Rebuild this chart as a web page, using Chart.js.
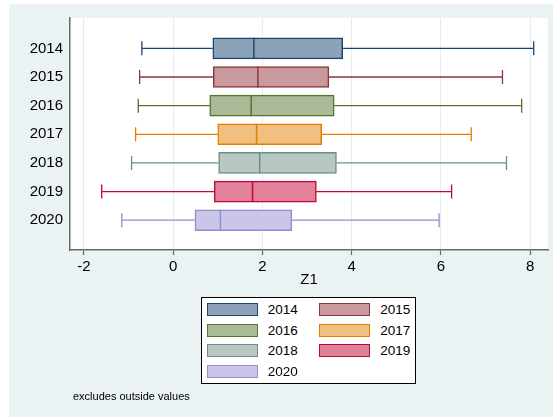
<!DOCTYPE html>
<html>
<head>
<meta charset="utf-8">
<script src="https://cdn.jsdelivr.net/npm/chart.js@4"></script>
<style>
  html, body { margin: 0; padding: 0; background: #fff; }
  #wrap { position: relative; width: 553px; height: 417px; overflow: hidden;
          font-family: "Liberation Sans", Arial, Helvetica, sans-serif; }
  #chart { position: absolute; left: 0; top: 0; }
  #legend { position: absolute; left: 201px; top: 297px; width: 213px; height: 85px;
            border: 1px solid #000; background: #fff; }
  .item { position: absolute; height: 14px; font-size: 13.5px; line-height: 14px; color: #000; white-space: nowrap; }
  .swatch { position: absolute; left: 0; top: 0; width: 49px; height: 11px; border: 1.5px solid; }
  .label { position: absolute; left: 61px; top: 0; }
  #note { position: absolute; left: 73px; top: 390px; font-size: 11px; line-height: 13px; color: #000; }
</style>
</head>
<body>
<div id="wrap">
  <canvas id="chart" width="553" height="417"></canvas>
  <div id="legend"></div>
  <div id="note">excludes outside values</div>
</div>
<script>
// Box plot of Z1 by year: whisker ends, quartiles and medians
const years         = ['2014', '2015', '2016', '2017', '2018', '2019', '2020'];
const lowerWhisker  = [-0.70, -0.75, -0.78, -0.84, -0.93, -1.60, -1.15];
const lowerQuartile = [0.89, 0.90, 0.82, 1.00, 1.02, 0.92, 0.49];
const medians       = [1.81, 1.90, 1.75, 1.87, 1.94, 1.78, 1.06];
const upperQuartile = [3.80, 3.49, 3.61, 3.33, 3.66, 3.21, 2.66];
const upperWhisker  = [8.08, 7.38, 7.81, 6.68, 7.47, 6.24, 5.96];
const xTicks        = [-2, 0, 2, 4, 6, 8];

const lineColors = ['#1A476F', '#90353B', '#55752F', '#E37E00', '#6E8E84', '#C10534', '#938DD2'];
const fillColors = ['#8CA3B7', '#C89A9D', '#AABA97', '#F1BF80', '#B7C7C2', '#E08299', '#C9C6E9'];

const FONT = '"Liberation Sans", Arial, Helvetica, sans-serif';

const datasets = years.map((yr, i) => ({
  label: yr,
  data: [{ x: [lowerQuartile[i], upperQuartile[i]], y: i + 1 }],
  backgroundColor: fillColors[i],
  borderColor: lineColors[i],
  borderWidth: 1.5,
  borderSkipped: false,
  grouped: false,
  barThickness: 21
}));

// Whiskers under the boxes, median strokes on top of them
const boxPlotExtras = {
  id: 'boxPlotExtras',
  beforeDraw(chart) {
    const { ctx, chartArea: a } = chart;
    ctx.save();
    ctx.fillStyle = '#EAF2F3';
    ctx.fillRect(9, 4, chart.width - 9, chart.height - 4);
    ctx.fillStyle = '#FFFFFF';
    ctx.fillRect(a.left, a.top, a.right - a.left, a.bottom - a.top);
    ctx.restore();
  },
  beforeDatasetsDraw(chart) {
    const { ctx } = chart;
    const xs = chart.scales.x;
    chart.data.datasets.forEach((ds, i) => {
      const bar = chart.getDatasetMeta(i).data[0];
      const { y } = bar.getProps(['y'], true);
      const lo = xs.getPixelForValue(lowerWhisker[i]);
      const q1 = xs.getPixelForValue(lowerQuartile[i]);
      const q3 = xs.getPixelForValue(upperQuartile[i]);
      const hi = xs.getPixelForValue(upperWhisker[i]);
      const cap = 7;
      ctx.save();
      ctx.strokeStyle = lineColors[i];
      ctx.lineWidth = 1.3;
      ctx.beginPath();
      ctx.moveTo(lo, y); ctx.lineTo(q1, y);
      ctx.moveTo(q3, y); ctx.lineTo(hi, y);
      ctx.moveTo(lo, y - cap); ctx.lineTo(lo, y + cap);
      ctx.moveTo(hi, y - cap); ctx.lineTo(hi, y + cap);
      ctx.stroke();
      ctx.restore();
    });
  },
  afterDatasetsDraw(chart) {
    const { ctx } = chart;
    const xs = chart.scales.x;
    chart.data.datasets.forEach((ds, i) => {
      const bar = chart.getDatasetMeta(i).data[0];
      const { y, height } = bar.getProps(['y', 'height'], true);
      const m = xs.getPixelForValue(medians[i]);
      ctx.save();
      ctx.strokeStyle = lineColors[i];
      ctx.lineWidth = 1.5;
      ctx.beginPath();
      ctx.moveTo(m, y - height / 2);
      ctx.lineTo(m, y + height / 2);
      ctx.stroke();
      ctx.restore();
    });
  }
};

const chart = new Chart(document.getElementById('chart'), {
  type: 'bar',
  data: { datasets },
  plugins: [boxPlotExtras],
  options: {
    indexAxis: 'y',
    responsive: false,
    devicePixelRatio: 1,
    animation: false,
    layout: { padding: { left: 9, top: 18, right: 5, bottom: 128 } },
    plugins: { legend: { display: false }, tooltip: { enabled: false } },
    scales: {
      x: {
        type: 'linear',
        position: 'bottom',
        min: -2.31,
        max: 8.4,
        afterBuildTicks: s => { s.ticks = xTicks.map(v => ({ value: v })); },
        afterFit: s => { s.height = 39; },
        ticks: { color: '#000', font: { family: FONT, size: 15 }, padding: 3,
                 callback: v => String(v) },
        grid: { color: '#E3ECEE', lineWidth: 1, drawTicks: true, tickLength: 5,
                tickColor: '#666', tickWidth: 1.2 },
        border: { display: true, color: '#6A6A6A', width: 1.5 },
        title: { display: true, text: 'Z1', color: '#000',
                 font: { family: FONT, size: 15 }, padding: { top: 0, bottom: 0 } }
      },
      y: {
        type: 'linear',
        position: 'left',
        reverse: true,
        offset: false,
        min: -0.06,
        max: 8.04,
        afterBuildTicks: s => { s.ticks = years.map((_, i) => ({ value: i + 1 })); },
        afterFit: s => { s.width = 61; },
        ticks: { color: '#000', font: { family: FONT, size: 15 }, padding: 7,
                 callback: v => years[v - 1] ?? '' },
        grid: { display: false, drawTicks: false, offset: false },
        border: { display: true, color: '#6A6A6A', width: 1.5 }
      }
    }
  }
});

// Two-column framed key built from the same series colours
const legend = document.getElementById('legend');
years.forEach((yr, i) => {
  const col = i % 2, row = Math.floor(i / 2);
  const item = document.createElement('div');
  item.className = 'item';
  item.style.left = (col === 0 ? 4.7 : 117.3) + 'px';
  item.style.top = (5.3 + row * 20.4) + 'px';
  const sw = document.createElement('div');
  sw.className = 'swatch';
  sw.style.background = fillColors[i];
  sw.style.borderColor = lineColors[i];
  const lb = document.createElement('div');
  lb.className = 'label';
  lb.textContent = yr;
  item.appendChild(sw);
  item.appendChild(lb);
  legend.appendChild(item);
});
</script>
</body>
</html>
